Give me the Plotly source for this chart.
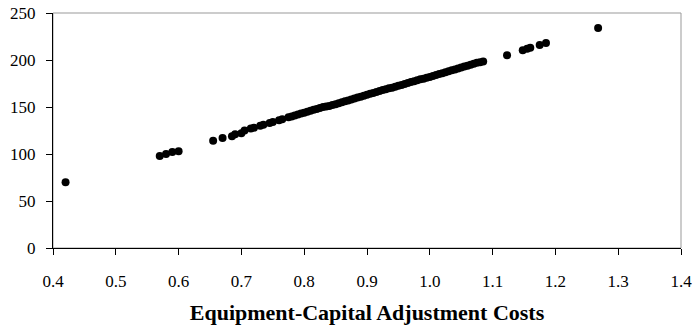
import plotly.graph_objects as go

# Equipment-capital adjustment costs (x) against the outcome measure (y)
adj_costs = [
    0.42,
    0.57, 0.58, 0.59, 0.60,
    0.655, 0.67, 0.685, 0.69, 0.70,
    0.705, 0.715, 0.72, 0.73, 0.735, 0.745, 0.75, 0.76, 0.765, 0.775,
    0.78, 0.785, 0.79, 0.795, 0.80, 0.805, 0.81, 0.815, 0.82, 0.825,
    0.83, 0.835, 0.84, 0.845, 0.85, 0.855, 0.86, 0.865, 0.87, 0.875,
    0.88, 0.885, 0.89, 0.895, 0.90, 0.905, 0.91, 0.915, 0.92, 0.925,
    0.93, 0.935, 0.94, 0.945, 0.95, 0.955, 0.96, 0.965, 0.97, 0.975,
    0.98, 0.985, 0.99, 0.995, 1.00, 1.005, 1.01, 1.015, 1.02, 1.025,
    1.03, 1.035, 1.04, 1.045, 1.05, 1.055, 1.06, 1.065, 1.07, 1.075,
    1.08, 1.085,
    1.123, 1.148, 1.155, 1.16, 1.175, 1.185,
    1.268,
]
outcome = [
    70,
    98, 100, 102, 103,
    114, 117, 119, 121, 122,
    125, 127, 128, 130, 131, 133, 134, 136, 137, 139,
    140, 141, 142, 143, 144, 145, 146, 147, 148, 149,
    150, 150.5, 151, 152, 153, 154, 155, 156, 157, 158,
    159, 160, 161, 162, 163, 164, 165, 166, 167, 168,
    169, 170, 170.5, 171.5, 172.5, 173.5, 174.5, 175.5, 176.5, 177.5,
    178.5, 179.5, 180, 181, 182, 183, 184, 185, 186, 187,
    188, 189, 190, 191, 192, 193, 194, 195, 196, 197,
    197.5, 198.5,
    205, 210.5, 212, 213, 216, 218,
    234,
]

x_ticks = [0.4, 0.5, 0.6, 0.7, 0.8, 0.9, 1.0, 1.1, 1.2, 1.3, 1.4]
x_tick_text = ["0.4", "0.5", "0.6", "0.7", "0.8", "0.9", "1.0", "1.1", "1.2", "1.3", "1.4"]
y_ticks = [0, 50, 100, 150, 200, 250]

FONT = "Liberation Serif, Times New Roman, serif"

fig = go.Figure(
    go.Scatter(
        x=adj_costs,
        y=outcome,
        mode="markers",
        marker=dict(color="black", size=8, line=dict(width=0)),
        showlegend=False,
        cliponaxis=False,
    )
)

# grey frame on the top and right sides of the plot area
fig.add_shape(
    type="rect", xref="paper", yref="paper", x0=0, y0=0, x1=1, y1=1,
    line=dict(color="#999999", width=1), layer="below",
)

fig.update_layout(
    width=693,
    height=329,
    margin=dict(l=53, r=12, t=13, b=81, autoexpand=False),
    paper_bgcolor="white",
    plot_bgcolor="white",
    font=dict(family=FONT, size=17, color="black"),
    xaxis=dict(
        range=[0.4, 1.4],
        tickvals=x_ticks,
        ticktext=x_tick_text,
        ticks="outside",
        ticklen=6,
        tickcolor="black",
        ticklabelstandoff=12,
        automargin=False,
        showline=True,
        linecolor="black",
        linewidth=1,
        showgrid=False,
        zeroline=False,
        title=dict(
            text="<b>Equipment-Capital Adjustment Costs</b>",
            font=dict(family=FONT, size=22, color="black"),
            standoff=14,
        ),
    ),
    yaxis=dict(
        range=[0, 250],
        tickvals=y_ticks,
        ticks="outside",
        ticklen=6,
        tickcolor="black",
        ticklabelstandoff=7,
        automargin=False,
        showline=True,
        linecolor="black",
        linewidth=1,
        showgrid=False,
        zeroline=False,
    ),
)

fig.write_html("out.html")
